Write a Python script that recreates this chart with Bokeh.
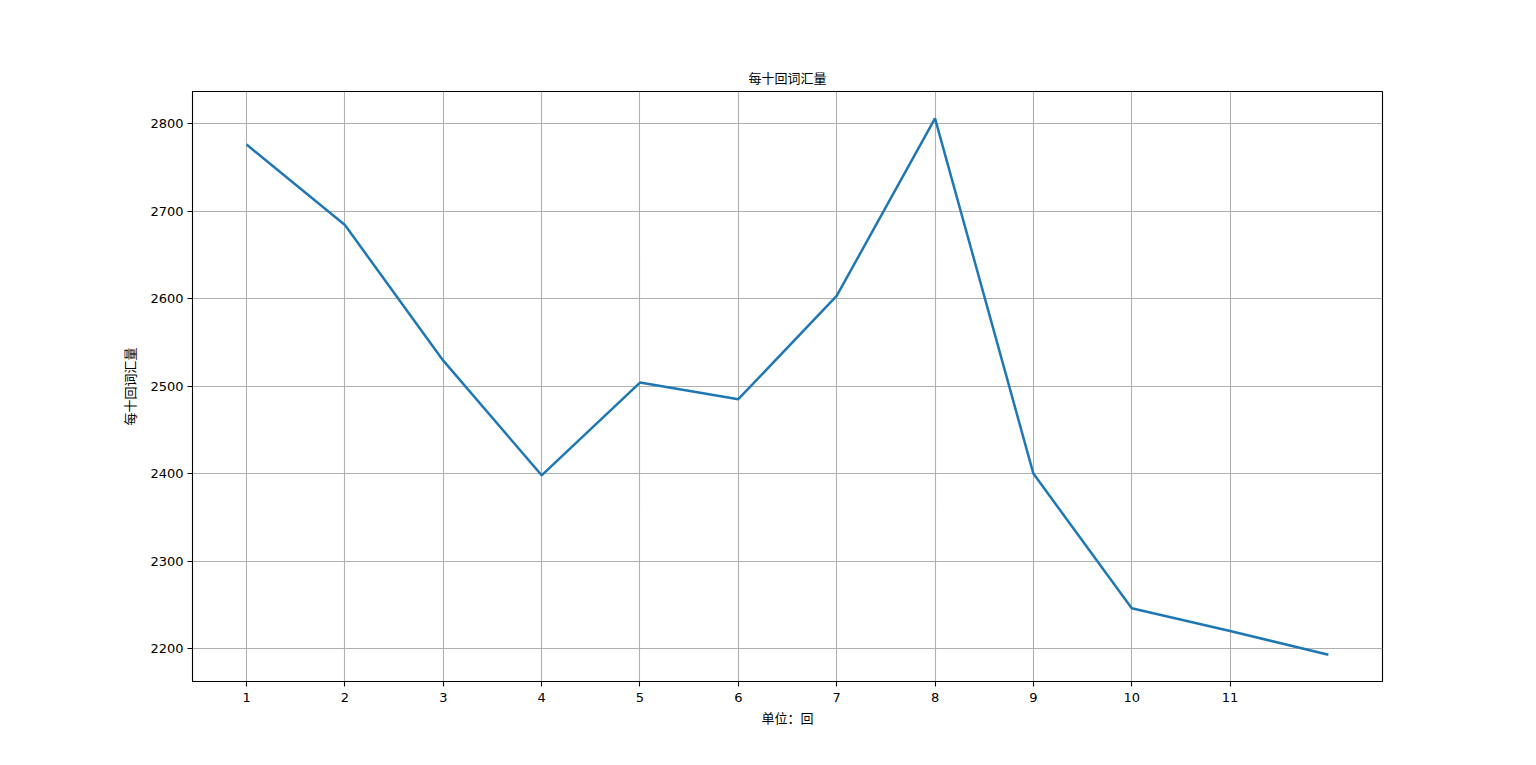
from bokeh.plotting import figure
from bokeh.models import Range1d, FixedTicker
from bokeh.embed import file_html
from bokeh.resources import INLINE

# Data
groups = [1, 2, 3, 4, 5, 6, 7, 8, 9, 10, 11, 12]
vocab = [2776, 2684, 2529, 2398, 2504, 2485, 2603, 2806, 2400, 2246, 2220, 2193]
x_ticks = [1, 2, 3, 4, 5, 6, 7, 8, 9, 10, 11]
y_ticks = [2200, 2300, 2400, 2500, 2600, 2700, 2800]

title_text = "每十回词汇量"
x_label = "单位：回"
y_label = "每十回词汇量"

CJK = "Noto Sans CJK SC"

xmin, xmax = min(groups), max(groups)
ymin, ymax = min(vocab), max(vocab)
xm = (xmax - xmin) * 0.05
ym = (ymax - ymin) * 0.05

p = figure(width=1528, height=757, output_backend="svg", toolbar_location=None,
           x_range=Range1d(xmin - xm, xmax + xm), y_range=Range1d(ymin - ym, ymax + ym),
           min_border_left=192, min_border_right=146, min_border_top=91, min_border_bottom=76)

p.title.text = title_text
p.title.align = "center"
p.title.text_font = CJK
p.title.text_font_size = "13px"
p.title.text_font_style = "normal"
p.title.text_color = "black"
p.title.offset = 0
p.title.standoff = 9

p.line(groups, vocab, line_color="#1f77b4", line_width=2.5)

p.outline_line_color = "black"
p.outline_line_width = 1.1
p.outline_line_alpha = 1.0

for ax in (p.xaxis[0], p.yaxis[0]):
    ax.axis_line_color = None
    ax.major_tick_in = 0
    ax.major_tick_out = 5
    ax.major_tick_line_color = "black"
    ax.major_tick_line_width = 1.1
    ax.minor_tick_line_color = None
    ax.major_label_text_font = "DejaVu Sans"
    ax.major_label_text_font_size = "13px"
    ax.major_label_text_color = "black"
    ax.axis_label_text_font = CJK
    ax.axis_label_text_font_size = "13px"
    ax.axis_label_text_font_style = "normal"
    ax.axis_label_text_color = "black"

p.xaxis[0].ticker = FixedTicker(ticks=x_ticks)
p.yaxis[0].ticker = FixedTicker(ticks=y_ticks)
p.xaxis[0].axis_label = x_label
p.yaxis[0].axis_label = y_label
p.xaxis[0].major_label_standoff = 6
p.yaxis[0].major_label_standoff = 4
p.xaxis[0].axis_label_standoff = 3
p.yaxis[0].axis_label_standoff = 8

p.grid.grid_line_color = "#b0b0b0"
p.grid.grid_line_width = 1.1
p.background_fill_color = "white"
p.border_fill_color = "white"

open("out.html", "w").write(file_html(p, INLINE))
